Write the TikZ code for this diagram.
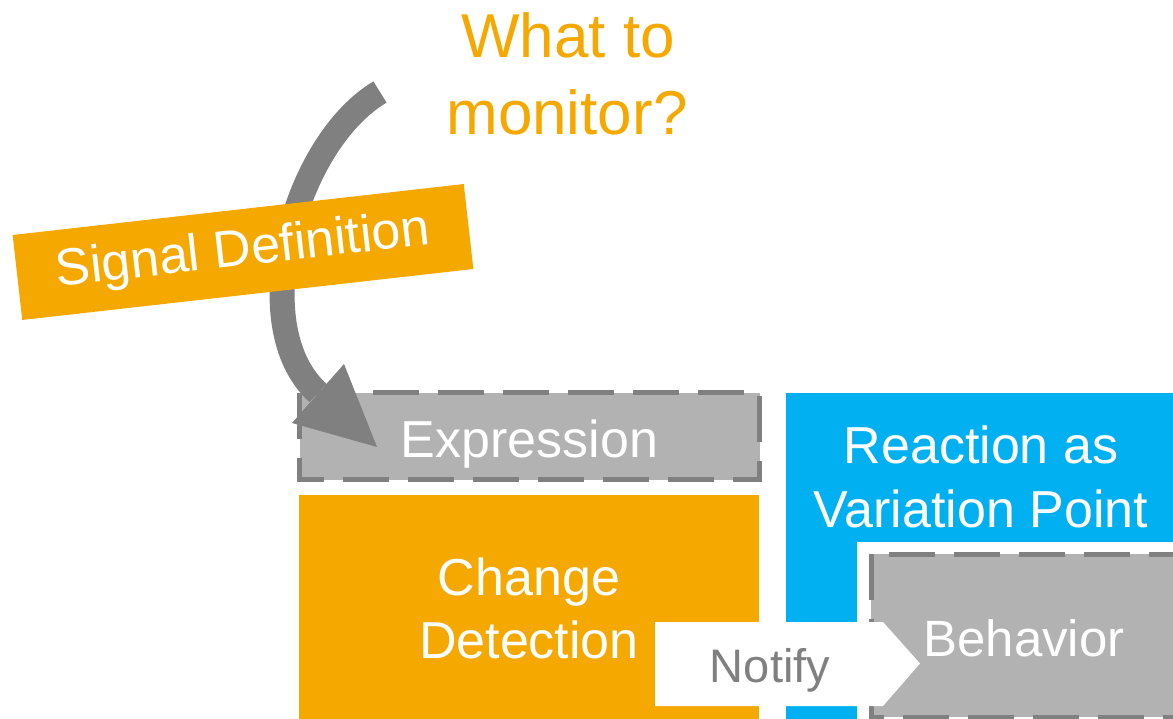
\documentclass[tikz,border=0pt]{standalone}
\usepackage{fontspec}
\setmainfont{Liberation Sans}
\definecolor{sigorange}{RGB}{245,168,0}
\definecolor{reactblue}{RGB}{0,176,240}
\definecolor{boxgray}{RGB}{178,178,178}
\definecolor{linegray}{RGB}{128,128,128}

\begin{document}
\begin{tikzpicture}[x=1pt,y=-1pt,
  dashedbox/.style={fill=boxgray, draw=linegray, line width=5pt, dash pattern=on 46pt off 19pt},
  boxlabel/.style={anchor=base, text=white, inner sep=0pt, font=\fontsize{52}{62}\selectfont},
  flowarrow/.style={linegray, line width=25pt},
]
\useasboundingbox (0,0) rectangle (1173,719);
\clip (0,0) rectangle (1173,719);

% reaction block with the embedded behavior slot
\fill[reactblue] (786,393) rectangle (1185,730);
\fill[white] (857,542) rectangle (1185,730);
\draw[dashedbox] (871,554) rectangle (1195,717);

% change detection and its expression
\fill[sigorange] (299,495) rectangle (759,730);
\draw[dashedbox] (299.5,392.5) rectangle (759.5,479.5);

% notify pointer
\fill[white] (655,622) -- (883,622) -- (920,663.5) -- (883,706) -- (655,706) -- cycle;

% labels
\node[boxlabel] (expr) at (529.5,457) {Expression};
\node[boxlabel] (chg1) at (529,595) {Change};
\node[boxlabel] (chg2) at (529,658) {Detection};
\node[boxlabel] (rea1) at (981,463) {Reaction as};
\node[boxlabel] (rea2) at (981,527) {Variation Point};
\node[boxlabel, font=\fontsize{51}{61}\selectfont] (beh) at (1024,656) {Behavior};
\node[boxlabel, text=linegray, font=\fontsize{47}{56}\selectfont] (notify) at (770,682) {Notify};

% question
\node[boxlabel, text=sigorange, font=\fontsize{62}{74}\selectfont] (wt1) at (568,58) {What to};
\node[boxlabel, text=sigorange, font=\fontsize{62}{74}\selectfont] (wt2) at (567,135) {monitor?};

% curved arrow from the question down to the expression
\coordinate (qs) at (380,92);
\coordinate (qe) at (318,393);
\coordinate (tipA) at (344,364);
\coordinate (tipB) at (292,423);
\coordinate (tip) at (377,447);
\draw[flowarrow] (qs) .. controls (294,143) and (244,326) .. (qe);
\fill[linegray] (tip) -- (tipA) -- (tipB) -- cycle;

% tilted signal definition banner
\node[fill=sigorange, rotate=6.45, minimum width=454pt, minimum height=85.5pt,
      inner sep=0pt, text=white, font=\fontsize{52}{62}\selectfont] (sig) at (243,252) {Signal Definition};
\end{tikzpicture}
\end{document}
